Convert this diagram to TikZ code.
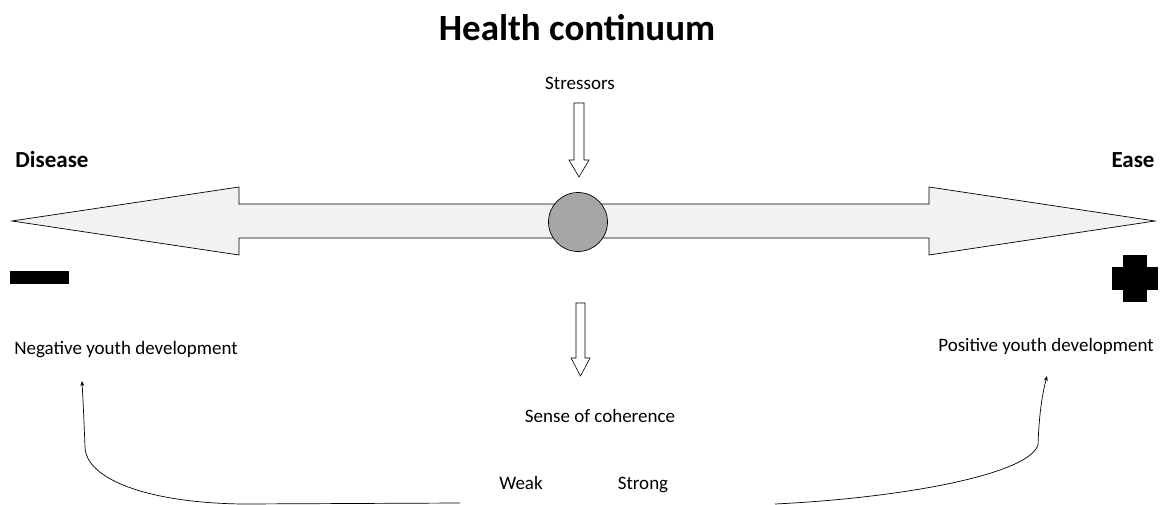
\documentclass[tikz,border=0pt]{standalone}
\usepackage{fontspec}
\setmainfont{Carlito}
\usetikzlibrary{arrows.meta}
\definecolor{barfill}{HTML}{F2F2F2}
\definecolor{hubfill}{HTML}{A6A6A6}
\tikzset{
  bigarrow/.style={draw=black, line width=0.7pt, fill=barfill, line join=miter},
  hollowarrow/.style={draw=black, line width=0.6pt, fill=white},
  txtlabel/.style={font=\fontsize{19}{22}\selectfont, inner sep=0pt, anchor=base},
  pole/.style={font=\bfseries\fontsize{23}{26}\selectfont, inner sep=0pt},
  sign/.style={fill=black, draw=none},
  curvelink/.style={draw=black, line width=0.7pt, -{Stealth[length=5pt,width=4pt]}},
}
\begin{document}
\begin{tikzpicture}[x=1pt, y=-1pt]
\useasboundingbox (0,0) rectangle (1166,505);

% title
\node[font=\bfseries\fontsize{37}{40}\selectfont, inner sep=0pt] (title) at (577,28) {Health continuum};

% the continuum: a double-headed block arrow
\draw[bigarrow] (12,221) -- (239,187) -- (239,204) -- (929,204) -- (929,187)
  -- (1155,221) -- (929,255) -- (929,238) -- (239,238) -- (239,255) -- cycle;
\node[circle, draw=black, line width=0.7pt, fill=hubfill, minimum size=59pt, inner sep=0pt] (hub) at (578,222) {};

% poles
\node[pole] (disease) at (52,160) {Disease};
\node[pole] (ease) at (1133,160) {Ease};
\fill[sign] (10,271) rectangle (69,284);
\fill[sign] (1123,255) rectangle (1147,302);
\fill[sign] (1112,267) rectangle (1158,290);

% stressors and their arrow
\node[txtlabel] (stress) at (580,90) {Stressors};
\draw[hollowarrow] (574,103) -- (584,103) -- (584,160) -- (589,160) -- (579,177)
  -- (569,160) -- (574,160) -- cycle;

% arrow towards sense of coherence
\draw[hollowarrow] (576,303) -- (585,303) -- (585,358) -- (590,358) -- (580.5,376)
  -- (571,358) -- (576,358) -- cycle;

% texts
\node[txtlabel] (neg) at (126,354) {Negative youth development};
\node[txtlabel] (pos) at (1046,351) {Positive youth development};
\node[txtlabel] (soc) at (600,422) {Sense of coherence};
\node[txtlabel] (weak) at (521,489) {Weak};
\node[txtlabel] (strong) at (643,489) {Strong};

% curved connectors from the coherence scale to the outcomes
\coordinate (wstart) at (460,503);
\coordinate (wend) at (82,381);
\coordinate (sstart) at (775,504);
\coordinate (send) at (1047,376);
\draw[curvelink] (wstart) -- (243,504) .. controls (150,503) and (86,480) .. (85,447)
  .. controls (84,420) and (83,400) .. (wend);
\draw[curvelink] (sstart) .. controls (900,498) and (1028,475) .. (1038,445)
  .. controls (1039,415) and (1042,395) .. (send);
\end{tikzpicture}
\end{document}
